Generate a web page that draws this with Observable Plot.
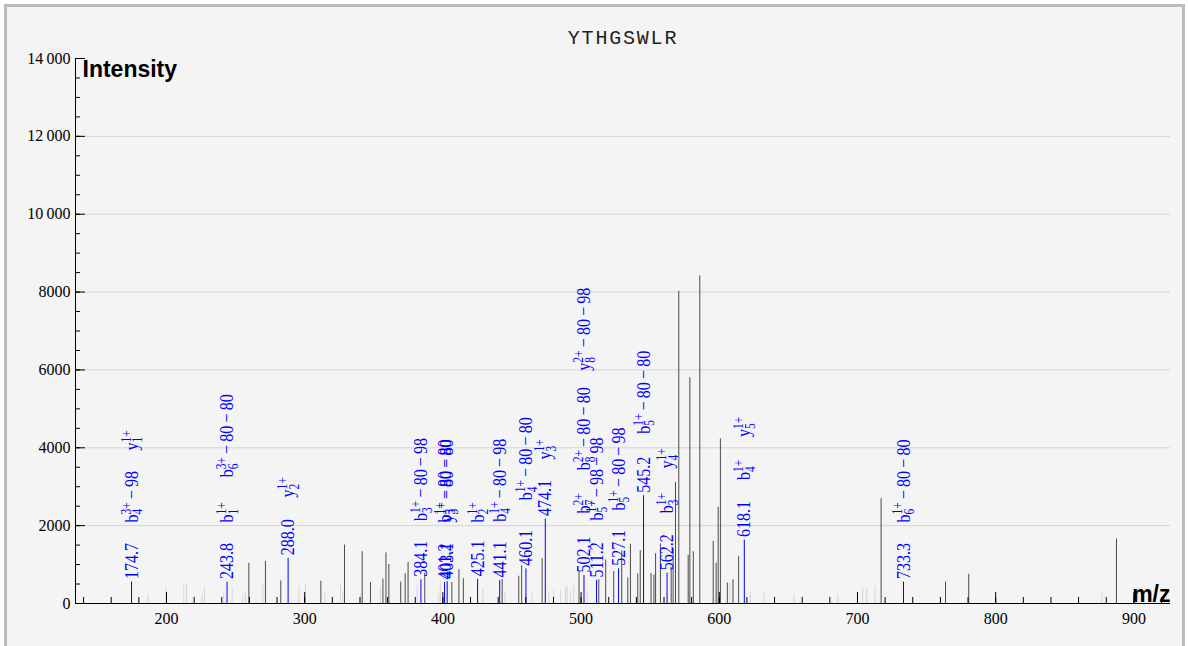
<!DOCTYPE html>
<html><head><meta charset="utf-8">
<script src="https://cdn.jsdelivr.net/npm/d3@7"></script>
<script src="https://cdn.jsdelivr.net/npm/@observablehq/plot@0.6"></script>
<style>
html,body{margin:0;padding:0;background:#fff;overflow:hidden;}
#frame{position:absolute;left:4px;top:4px;width:1181px;height:700px;box-sizing:border-box;border:3px solid #bcbcbc;border-bottom:none;background:#f4f4f4;}
#chart{position:absolute;left:0;top:0;}
</style></head><body>
<div id="frame"></div><div id="chart"></div>
<script>
const title = "YTHGSWLR";
const xDomain = [134.15, 926.5];
const yDomain = [0, 14000];
const xTickValues = [200, 300, 400, 500, 600, 700, 800, 900];
const xTickLabels = ["200", "300", "400", "500", "600", "700", "800", "900"];
const xMinorTicks = [140,160,180,200,220,240,260,280,300,320,340,360,380,400,420,440,460,480,500,520,540,560,580,600,620,640,660,680,700,720,740,760,780,800,820,840,860,880,900,920];
const yTickValues = [0, 2000, 4000, 6000, 8000, 10000, 12000, 14000];
const yTickLabels = ["0", "2000", "4000", "6000", "8000", "10\u2009000", "12\u2009000", "14\u2009000"];
const yMinorTicks = [500,1000,1500,2000,2500,3000,3500,4000,4500,5000,5500,6000,6500,7000,7500,8000,8500,9000,9500,10000,10500,11000,11500,12000,12500,13000,13500,14000];
const yGrid = [2000, 4000, 6000, 8000, 10000, 12000];

// unannotated peaks
const peakMz  = [259.6,271.6,282.7,311.7,328.8,341.6,347.6,356.6,358.8,360.9,369.5,372.7,374.8,386.9,406.5,411.6,414.8,442.9,454.9,457.0,471.8,498.5,512.8,517.8,523.6,529.4,533.8,535.7,541.0,542.8,550.6,552.7,553.9,557.4,565.2,566.6,568.3,570.7,577.5,578.7,581.2,585.9,595.6,597.7,599.2,600.8,605.8,609.9,614.0,717.1,763.7,780.5,887.4];
const peakInt = [1030,1080,580,570,1500,1330,540,630,1300,1000,550,760,1050,790,540,870,635,615,700,970,1150,820,615,1120,820,1350,655,1520,760,1360,770,730,1280,1530,930,1400,3110,8020,1240,5800,1330,8420,1600,1040,2470,4230,525,610,1200,2690,550,750,1660];
// low noise peaks
const noiseMz  = [186.7,199.6,212.5,214.5,225.8,227.5,241.5,247.5,255.2,257.2,269.7,295.8,300.6,314.6,325.9,327.6,340.5,354.8,381.4,397.0,398.2,428.9,444.8,464.6,476.6,480.2,485.1,488.7,489.9,492.3,494.7,504.4,607.6,622.6,632.5,654.2,685.7,703.8,706.7,712.7,876.8,902.8];
const noiseInt = [240,420,490,490,240,420,300,370,240,280,490,445,490,275,505,310,250,420,460,250,505,350,290,250,300,330,330,420,440,300,470,290,510,290,280,230,230,420,380,440,265,380];
// annotated peaks
const annMz  = [174.7,243.8,288.0,384.1,401.2,403.1,425.1,441.1,460.1,474.1,502.1,511.2,527.1,545.2,562.2,618.1,733.3];
const annInt = [550,550,1160,610,540,560,620,590,890,2170,720,590,890,2770,780,1630,550];
// ion annotations: m/z, label, level (intensity) where the label begins
const ionMz    = [174.7,174.7,243.8,243.8,288.0,384.1,401.2,403.1,425.1,441.1,460.1,474.1,502.1,502.1,502.1,511.2,527.1,545.2,562.2,562.2,618.1,618.1,733.3];
const ionLabel = ["b_{4}^{3+}−98","y_{1}^{1+}","b_{1}^{1+}","b_{6}^{3+}−80−80","y_{2}^{1+}","b_{3}^{1+}−80−98","b_{3}^{1+}−80−80","y_{3}^{1+}−80−80","b_{2}^{1+}","b_{4}^{1+}−80−98","b_{4}^{1+}−80−80","y_{3}^{1+}","b_{7}^{2+}","b_{8}^{2+}−80−80","y_{8}^{2+}−80−98","b_{5}^{1+}−98−98","b_{5}^{1+}−80−98","b_{5}^{1+}−80−80","b_{3}^{1+}","y_{4}^{1+}","b_{4}^{1+}","y_{5}^{1+}","b_{6}^{1+}−80−80"];
const ionAt    = [2080,3930,2080,3240,2720,2120,2080,2080,2080,2100,2650,3700,2310,3420,5980,2130,2390,4360,2320,3470,3170,4280,2080];

const peaks = peakMz.map((mz, i) => ({mz, int: peakInt[i]}));
const noise = noiseMz.map((mz, i) => ({mz, int: noiseInt[i]}));
const ann = annMz.map((mz, i) => ({mz, int: annInt[i]}));
const ions = ionMz.map((mz, i) => ({mz, label: ionLabel[i], at: ionAt[i]}));

const W = 1188, H = 646, mL = 75, mR = 18, mT = 58, mB = 43;
const plotW = W - mL - mR, plotH = H - mT - mB;
const serif = "Liberation Serif, Times New Roman, serif";
const blue = "#0000ff";

const chart = Plot.plot({
  width: W, height: H,
  marginLeft: mL, marginRight: mR, marginTop: mT, marginBottom: mB,
  style: {background: "transparent", fontFamily: serif, fontSize: "16px", color: "#000"},
  x: {domain: xDomain, ticks: xTickValues, tickFormat: d => xTickLabels[xTickValues.indexOf(d)], tickSize: 0, tickPadding: 9, label: null},
  y: {domain: yDomain, ticks: yTickValues, tickFormat: d => yTickLabels[yTickValues.indexOf(d)], tickSize: 0, tickPadding: 5, label: null},
  marks: [
    Plot.ruleY(yGrid, {y: d => d, stroke: "#d4d4d4"}),
    Plot.ruleX(noise, {x: "mz", y: "int", stroke: "#d6d6d6"}),
    Plot.ruleX(peaks, {x: "mz", y: "int", stroke: "#4a4a4a"}),
    Plot.ruleX(ann, {x: "mz", y: "int", stroke: blue}),
    Plot.tickX(xMinorTicks, {x: d => d, insetTop: plotH - 6, stroke: "#000"}),
    Plot.tickX(xTickValues, {x: d => d, insetTop: plotH - 11, stroke: "#000"}),
    Plot.tickY(yMinorTicks, {y: d => d, insetRight: plotW - 5, stroke: "#000"}),
    Plot.tickY(yTickValues, {y: d => d, insetRight: plotW - 10, stroke: "#000"}),
    Plot.ruleY([0], {stroke: "#000"}),
    Plot.ruleX([xDomain[0]], {stroke: "#000"}),
    Plot.text(ann, {x: "mz", y: "int", text: d => d.mz.toFixed(1), rotate: -90, textAnchor: "start", lineAnchor: "middle", dy: -3, fill: blue, fontFamily: serif, fontSize: 16}),
    Plot.text(ions, {x: "mz", y: "at", text: "label", rotate: -90, textAnchor: "start", lineAnchor: "middle", fill: blue, fontFamily: serif, fontSize: 16}),
    Plot.text([title], {text: d => d, frameAnchor: "top", lineAnchor: "middle", dy: -21, fontFamily: "Liberation Mono, monospace", fontSize: 20, fill: "#222"}),
    Plot.text(["Intensity"], {text: d => d, frameAnchor: "top-left", textAnchor: "start", lineAnchor: "top", dx: 7, dy: 2, fontFamily: "Liberation Sans, Arial, sans-serif", fontWeight: "bold", fontSize: 23, fill: "#000"}),
    Plot.text(["m/z"], {text: d => d, frameAnchor: "bottom-right", textAnchor: "end", lineAnchor: "bottom", dy: -2, fontFamily: "Liberation Sans, Arial, sans-serif", fontWeight: "bold", fontSize: 23, fill: "#000"})
  ]
});
document.getElementById("chart").appendChild(chart);

// turn "b_{4}^{3+}−98" into stacked sub/superscripts; slightly taller glyphs for the blue labels
const NS = "http://www.w3.org/2000/svg";
function tspan(txt, attrs) {
  const t = document.createElementNS(NS, "tspan");
  t.textContent = txt;
  for (const k in attrs) t.setAttribute(k, attrs[k]);
  return t;
}
const re = /^(.)_\{(.+?)\}\^\{(.+?)\}(.*)$/;
const numRe = /^\d+\.\d$/;
chart.querySelectorAll("text").forEach(el => {
  const s = el.textContent;
  if (s === title) { el.setAttribute("letter-spacing", "1.8"); return; }
  const m = re.exec(s);
  const isNum = numRe.test(s) && el.getAttribute("transform") && /rotate/.test(el.getAttribute("transform"));
  if (isNum || m) {
    el.setAttribute("transform", el.getAttribute("transform") + " scale(1,1.18)");
  }
  if (!m) return;
  while (el.firstChild) el.removeChild(el.firstChild);
  el.appendChild(tspan(m[1], {}));
  const sup = tspan(m[3], {"font-size": 11.5, dy: -6});
  el.appendChild(sup);
  const supW = sup.getComputedTextLength();
  const sub = tspan(m[2], {"font-size": 11.5, dx: -supW, dy: 10});
  el.appendChild(sub);
  const subW = sub.getComputedTextLength();
  if (m[4]) {
    const rest = m[4].replace(/−/g, "\u2009−\u2009");
    el.appendChild(tspan(rest, {dx: Math.max(0, supW - subW), dy: -4}));
  }
});
</script>
</body></html>
